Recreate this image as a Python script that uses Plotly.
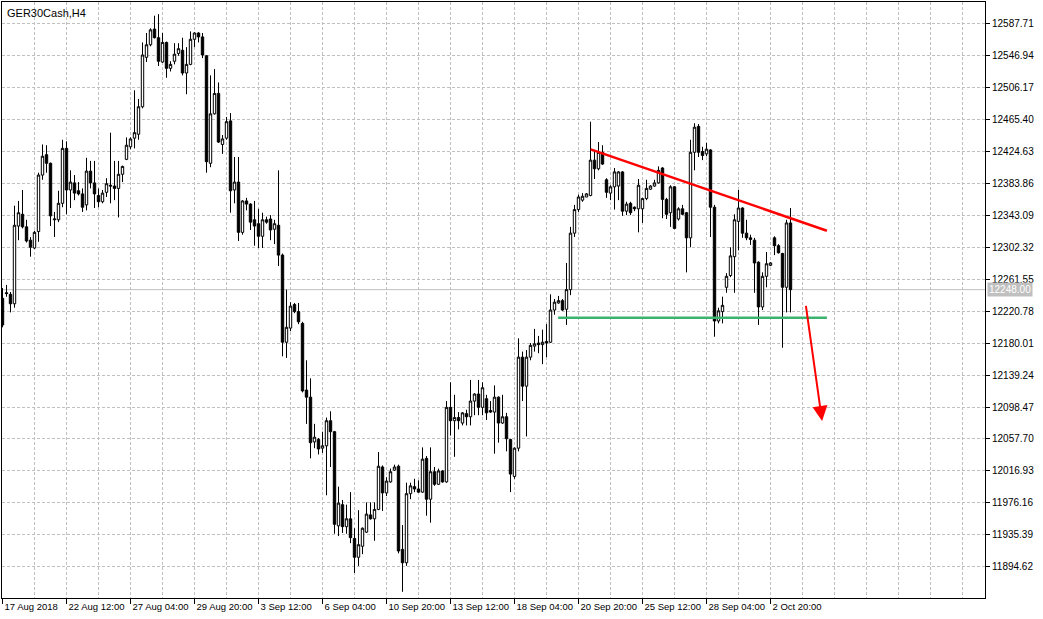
import plotly.graph_objects as go

# ---------------- data (H4 bars) ----------------
opens = [12237,12244,12242,12230,12329,12344,12328,12311,12301,12322,
         12394,12420,12409,12337,12337,12358,12428,12375,12384,12374,
         12370,12356,12399,12384,12368,12360,12372,12381,12380,12377,
         12395,12414,12430,12441,12446,12481,12544,12560,12580,12569,
         12538,12563,12530,12539,12549,12553,12524,12535,12567,12575,
         12570,12546,12409,12472,12498,12433,12441,12463,12375,12385,
         12321,12361,12357,12337,12332,12316,12337,12338,12325,12330,
         12292,12181,12199,12229,12220,12205,12120,12111,12054,12057,
         12046,12049,12081,12067,11947,11974,11946,11956,11931,11907,
         11921,11939,11961,11956,11968,12022,11989,12003,12018,12023,
         11917,11900,11988,11997,11994,11990,12033,11981,12016,12000,
         12017,12003,12098,12081,12085,12078,12090,12086,12106,12115,
         12098,12109,12094,12092,12111,12078,12086,12057,12010,12046,
         12162,12125,12162,12176,12180,12178,12182,12181,12222,12231,
         12234,12223,12248,12320,12350,12362,12366,12368,12413,12402,
         12423,12388,12371,12379,12380,12398,12348,12358,12353,12351,
         12351,12364,12376,12380,12384,12403,12363,12346,12379,12338,
         12351,12346,12314,12423,12456,12424,12421,12426,12353,12208,
         12220,12251,12266,12290,12335,12352,12320,12314,12311,12283,
         12226,12265,12279,12314,12304,12294,12251,12333]
highs = [12250,12254,12245,12355,12361,12375,12337,12315,12323,12397,
         12433,12432,12410,12347,12374,12439,12437,12400,12394,12385,
         12377,12416,12412,12412,12377,12375,12390,12448,12412,12412,
         12406,12442,12442,12502,12491,12563,12575,12581,12597,12599,
         12575,12564,12539,12562,12562,12569,12557,12577,12576,12576,
         12575,12547,12521,12529,12512,12445,12468,12473,12417,12417,
         12362,12365,12358,12361,12351,12346,12341,12343,12337,12400,
         12294,12248,12232,12231,12231,12207,12158,12135,12077,12059,
         12067,12085,12093,12068,11997,11980,11974,11990,11944,11967,
         11945,11977,11977,11977,12041,12024,12009,12020,12025,12025,
         11948,12002,12002,12007,12005,12047,12036,12047,12022,12020,
         12018,12106,12130,12114,12092,12092,12095,12133,12116,12133,
         12130,12114,12106,12126,12112,12114,12091,12058,12047,12186,
         12169,12171,12180,12198,12189,12197,12204,12242,12236,12240,
         12236,12282,12328,12356,12369,12371,12371,12462,12426,12436,
         12432,12390,12381,12403,12399,12399,12360,12360,12354,12389,
         12365,12388,12381,12388,12405,12404,12365,12381,12380,12353,
         12356,12347,12439,12460,12459,12430,12435,12427,12356,12225,
         12239,12269,12302,12344,12375,12353,12337,12318,12314,12284,
         12270,12296,12283,12316,12306,12295,12337,12352]
lows = [12200,12239,12219,12225,12311,12326,12308,12290,12300,12309,
        12388,12397,12329,12315,12334,12353,12344,12352,12362,12368,
        12347,12349,12377,12352,12353,12358,12366,12358,12362,12340,
        12385,12413,12427,12428,12439,12479,12538,12558,12568,12533,
        12537,12518,12526,12535,12546,12521,12497,12534,12557,12563,
        12543,12397,12404,12471,12435,12421,12439,12346,12358,12310,
        12318,12349,12324,12304,12301,12301,12332,12311,12306,12278,
        12163,12161,12195,12218,12204,12117,12077,12033,12046,12038,
        12040,11986,12022,11937,11934,11938,11937,11925,11887,11896,
        11911,11938,11955,11928,11967,11966,11985,12002,12017,11912,
        11863,11896,11981,11990,11989,11989,11960,11951,11998,11999,
        12002,12002,12062,12035,12070,12075,12075,12075,12088,12088,
        12088,12082,12091,12039,12053,12077,12042,11990,12007,12042,
        12106,12061,12158,12169,12167,12153,12162,12180,12216,12230,
        12221,12203,12241,12315,12347,12360,12366,12367,12389,12400,
        12407,12365,12362,12350,12362,12342,12343,12343,12348,12321,
        12333,12362,12375,12379,12383,12339,12338,12328,12325,12336,
        12343,12270,12302,12400,12417,12413,12418,12315,12188,12205,
        12205,12244,12264,12244,12298,12314,12311,12305,12244,12203,
        12222,12251,12278,12292,12294,12174,12219,12219]
closes = [12203,12243,12230,12330,12346,12328,12310,12302,12321,12394,
          12418,12409,12342,12338,12358,12428,12375,12385,12371,12370,
          12353,12399,12384,12370,12360,12371,12383,12380,12377,12395,
          12405,12432,12440,12448,12481,12547,12560,12579,12569,12539,
          12563,12530,12535,12548,12555,12524,12535,12567,12575,12570,
          12547,12411,12472,12498,12436,12440,12462,12374,12385,12321,
          12361,12357,12334,12329,12316,12337,12334,12324,12332,12292,
          12181,12200,12227,12220,12207,12119,12111,12053,12060,12045,
          12049,12081,12067,11949,11976,11946,11956,11932,11907,11923,
          11944,11962,11956,11968,12023,11989,12004,12016,12022,11915,
          11900,11988,11998,11994,11990,12032,11981,12016,12000,12017,
          12003,12098,12081,12085,12081,12091,12086,12106,12115,12098,
          12123,12091,12092,12111,12078,12086,12058,12013,12046,12162,
          12125,12162,12177,12179,12178,12181,12180,12222,12232,12234,
          12222,12248,12320,12350,12366,12367,12370,12413,12402,12423,
          12408,12372,12379,12398,12398,12348,12357,12346,12351,12381,
          12364,12377,12380,12384,12400,12363,12344,12379,12326,12351,
          12344,12314,12423,12455,12423,12419,12427,12353,12208,12221,
          12228,12265,12291,12337,12352,12320,12314,12312,12282,12226,
          12265,12281,12282,12304,12295,12251,12333,12248]

x_tick_bars = [0, 16, 32, 48, 64, 80, 96, 112, 128, 144, 160, 176, 192]
x_tick_text = ["17 Aug 2018", "22 Aug 12:00", "27 Aug 04:00", "29 Aug 20:00",
               "3 Sep 12:00", "6 Sep 04:00", "10 Sep 20:00", "13 Sep 12:00",
               "18 Sep 04:00", "20 Sep 20:00", "25 Sep 12:00", "28 Sep 04:00",
               "2 Oct 20:00"]
x_grid_minor = [8, 24, 40, 56, 72, 88, 104, 120, 136, 152, 168, 184, 200,
                208, 216, 224, 232, 240]

y_tick_text = ["12587.71", "12546.94", "12506.17", "12465.40", "12424.63",
               "12383.86", "12343.09", "12302.32", "12261.55", "12220.78",
               "12180.01", "12139.24", "12098.47", "12057.70", "12016.93",
               "11976.16", "11935.39", "11894.62"]
y_tick_vals = [float(t) for t in y_tick_text]

current_price = 12248.00
symbol_title = "GER30Cash,H4"

trend_x = [147.05, 206.1]
trend_y = [12426.8, 12323.1]
support_x = [138.9, 206.1]
support_y = [12212.3, 12212.3]
arrow_x = [200.8, 204.9]
arrow_y = [12229.3, 12080.6]

x_range = [-0.125, 245.625]
y_range = [11855.1, 12614.5]

# ---------------- figure ----------------
FONT = "Liberation Sans, Arial, sans-serif"
GRID = "#c0c0c0"
bars = list(range(len(opens)))

fig = go.Figure()
fig.add_trace(go.Candlestick(
    x=bars, open=opens, high=highs, low=lows, close=closes,
    increasing=dict(line=dict(color="black", width=1), fillcolor="white"),
    decreasing=dict(line=dict(color="black", width=1), fillcolor="black"),
    whiskerwidth=0, showlegend=False, hoverinfo="skip"))

fig.add_trace(go.Scatter(x=trend_x, y=trend_y, mode="lines",
                         line=dict(color="#ff0000", width=2.5),
                         showlegend=False, hoverinfo="skip"))
fig.add_trace(go.Scatter(x=support_x, y=support_y, mode="lines",
                         line=dict(color="#3cb371", width=2.5),
                         showlegend=False, hoverinfo="skip"))

fig.add_shape(type="line", xref="paper", x0=0, x1=1, yref="y",
              y0=current_price, y1=current_price,
              line=dict(color=GRID, width=1), layer="below")

fig.add_annotation(x=arrow_x[1], y=arrow_y[1], ax=arrow_x[0], ay=arrow_y[0],
                   xref="x", yref="y", axref="x", ayref="y", text="",
                   showarrow=True, arrowhead=2, arrowsize=1.5, arrowwidth=2,
                   arrowcolor="#ff0000")

fig.add_annotation(x=1, xref="paper", xanchor="left", xshift=2,
                   y=current_price, yref="y", yanchor="middle",
                   text=f"{current_price:.2f}", showarrow=False,
                   bgcolor=GRID, borderpad=1,
                   font=dict(family=FONT, size=10, color="white"))

fig.add_annotation(x=0, xref="paper", xanchor="left", xshift=3,
                   y=1, yref="paper", yanchor="top", yshift=-3,
                   text=symbol_title, showarrow=False,
                   font=dict(family=FONT, size=11, color="black"))

fig.update_layout(
    width=1043, height=619,
    margin=dict(l=2, r=58, t=2, b=21),
    paper_bgcolor="white", plot_bgcolor="white",
    showlegend=False,
    boxgap=0.15,
    font=dict(family=FONT, size=10, color="black"),
    xaxis=dict(
        range=x_range, rangeslider=dict(visible=False),
        tickmode="array", tickvals=x_tick_bars, ticktext=x_tick_text,
        ticks="outside", ticklen=5, tickcolor="black", tickwidth=1,
        ticklabelposition="outside right", tickangle=0, ticklabelshift=1,
        showline=True, linecolor="black", linewidth=1, mirror=True,
        showgrid=True, gridcolor=GRID, griddash="3px,2px", gridwidth=1,
        zeroline=False, automargin=False,
        tickfont=dict(family=FONT, size=9.5, color="black"),
        minor=dict(tickmode="array", tickvals=x_grid_minor, showgrid=True,
                   gridcolor=GRID, griddash="3px,2px", gridwidth=1, ticks=""),
    ),
    yaxis=dict(
        side="right", range=y_range,
        tickmode="array", tickvals=y_tick_vals, ticktext=y_tick_text,
        ticks="outside", ticklen=4, tickcolor="black", tickwidth=1,
        showline=True, linecolor="black", linewidth=1, mirror=True,
        showgrid=True, gridcolor=GRID, griddash="3px,2px", gridwidth=1,
        zeroline=False, automargin=False,
        tickfont=dict(family=FONT, size=10, color="black"),
    ),
)

fig.write_html("out.html",
               config={"displayModeBar": False},
               post_script="document.body.style.margin='0';"
                           "document.body.style.overflow='hidden';")
